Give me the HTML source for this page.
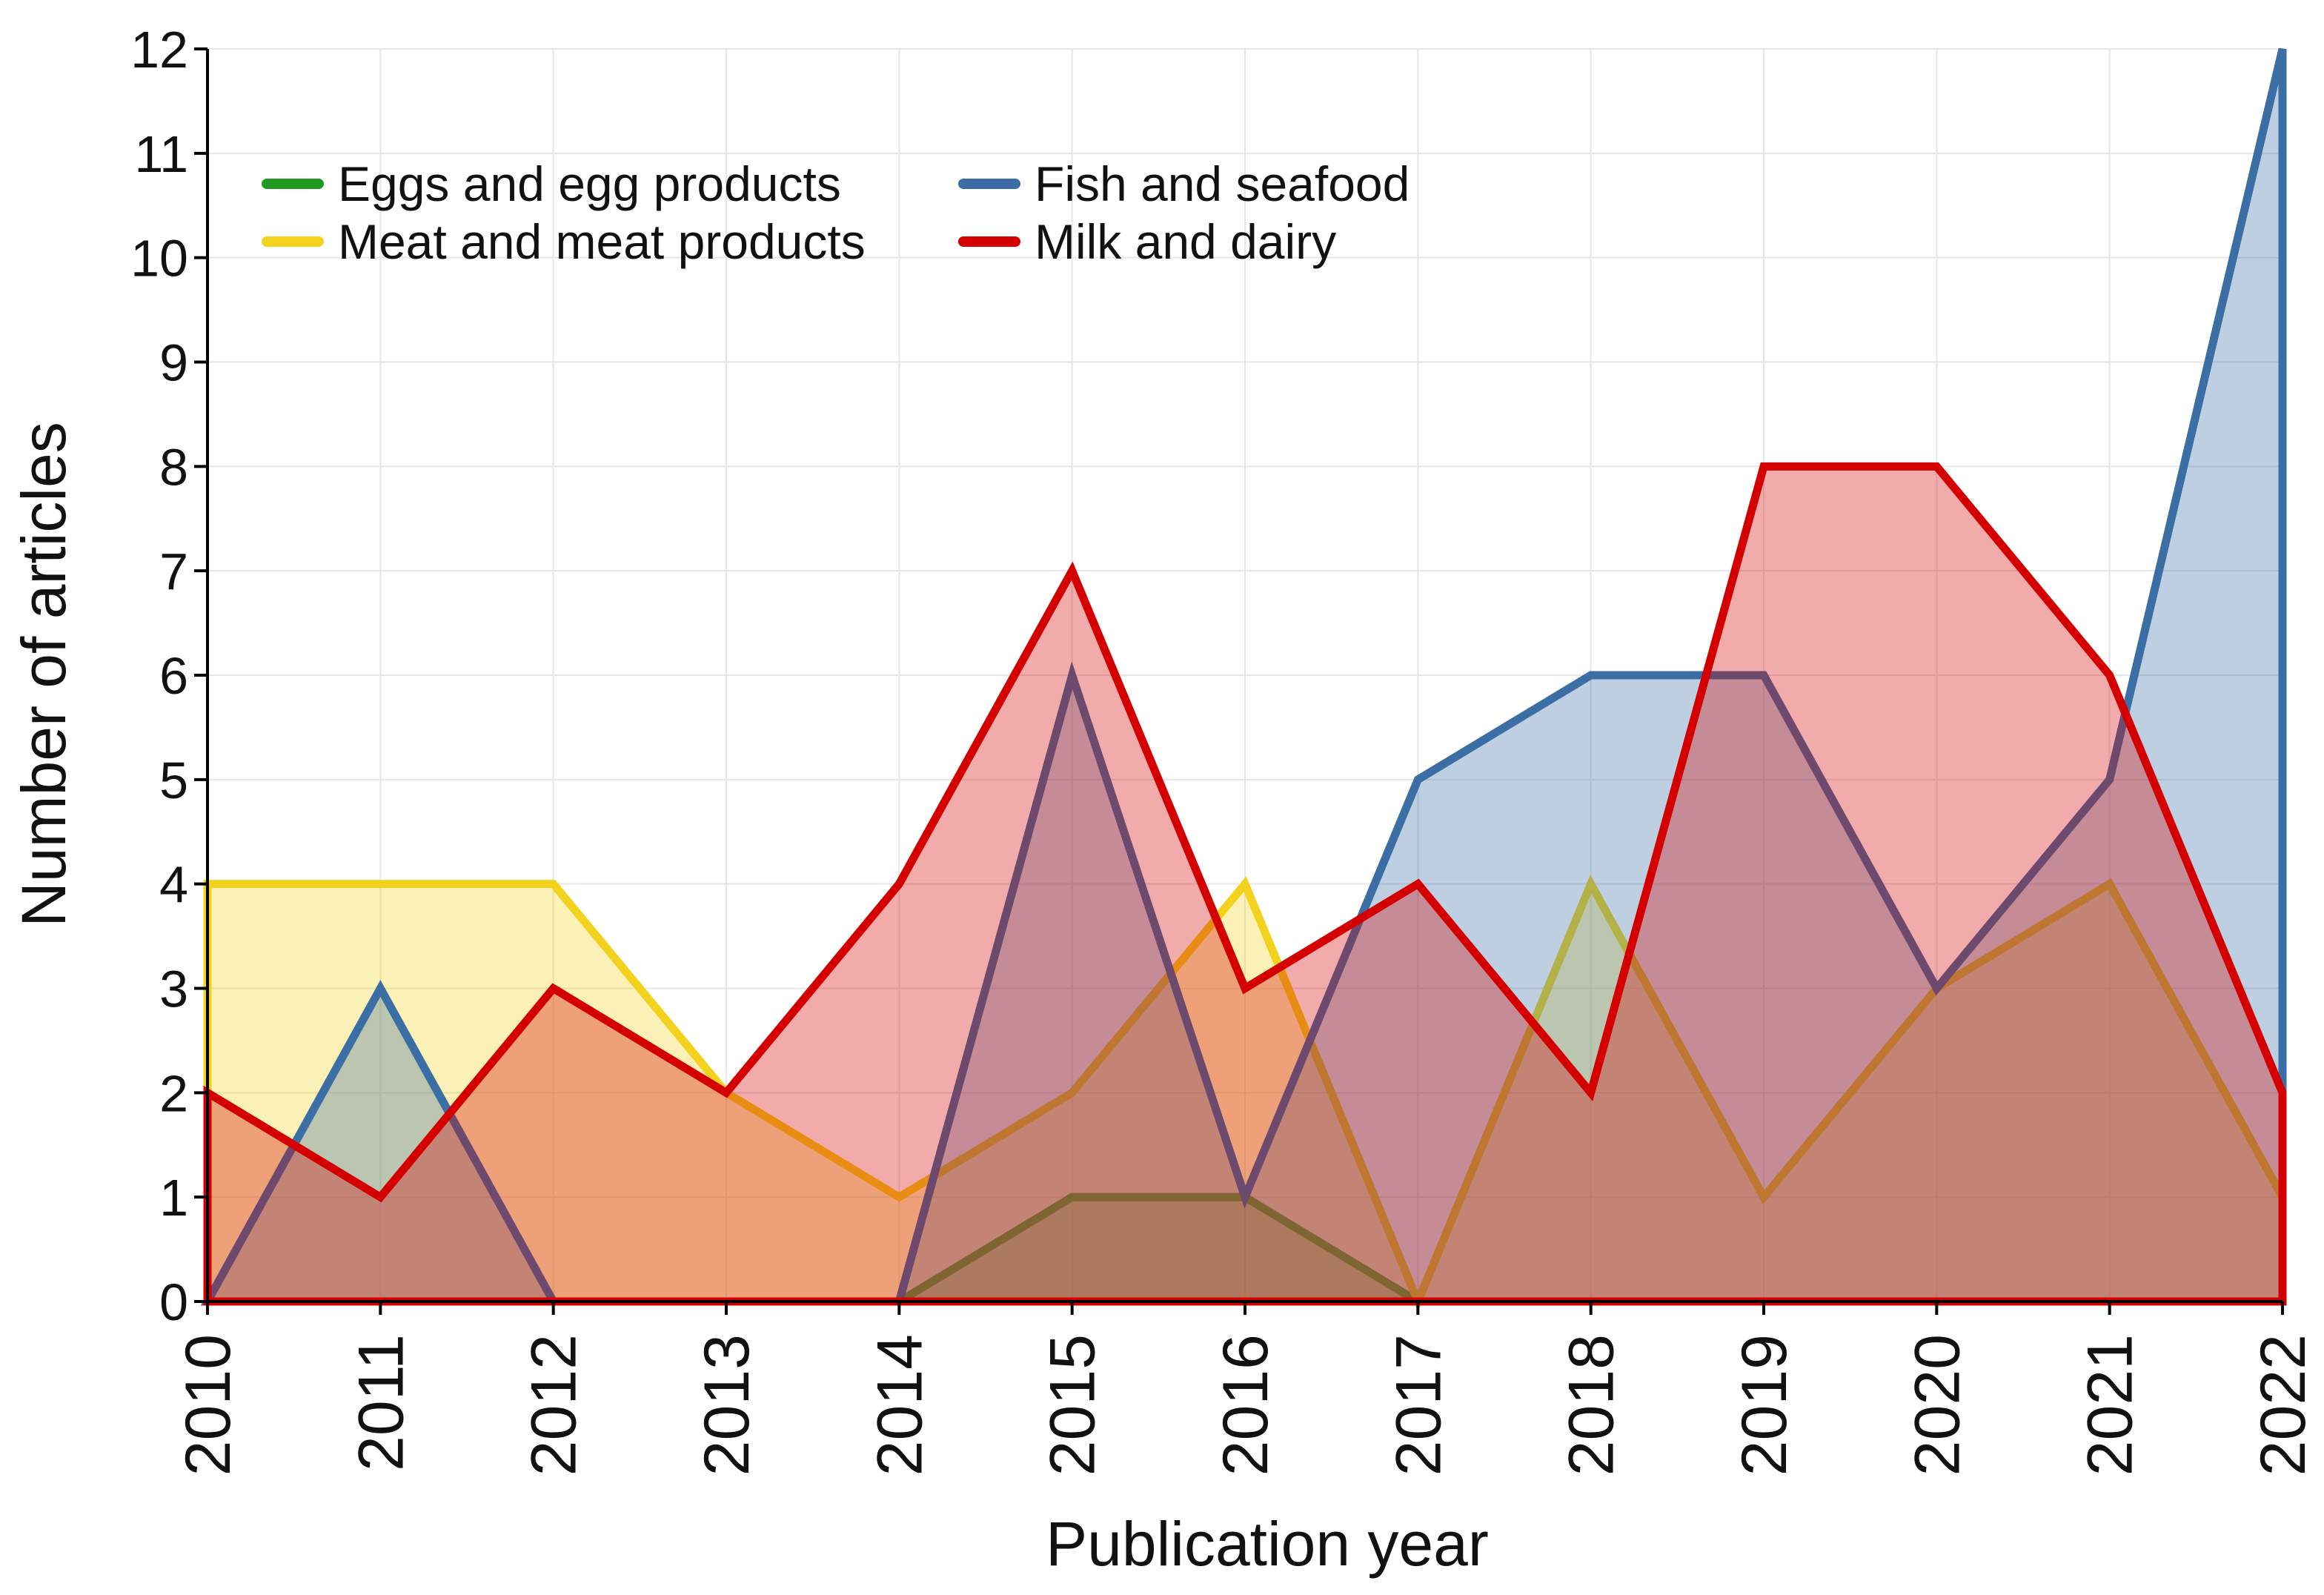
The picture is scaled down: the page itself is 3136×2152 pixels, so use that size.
<!DOCTYPE html>
<html><head><meta charset="utf-8"><style>
html,body{margin:0;padding:0;background:#fff;}
svg{display:block;font-family:"Liberation Sans",Arial,sans-serif;}
</style></head><body>
<svg id="chart" width="3136" height="2152" viewBox="0 0 3136 2152" xmlns="http://www.w3.org/2000/svg">
<g id="grid"></g>
<g id="areas"></g>
<g id="axes"></g>
<text transform="translate(88,910) rotate(-90)" text-anchor="middle" font-size="84" fill="#111">Number of articles</text>
<text x="1710" y="2112" text-anchor="middle" font-size="84" fill="#111">Publication year</text>
<g id="legend"></g>
</svg>
<script>
const years = [2010,2011,2012,2013,2014,2015,2016,2017,2018,2019,2020,2021,2022];
const eggs = [0,0,0,0,0,1,1,0,0,0,0,0,0];
const meat = [4,4,4,2,1,2,4,0,4,1,3,4,1];
const fish = [0,3,0,0,0,6,1,5,6,6,3,5,12];
const milk = [2,1,3,2,4,7,3,4,2,8,8,6,2];
const yTicks = [0,1,2,3,4,5,6,7,8,9,10,11,12];
const seriesNames = ["Eggs and egg products","Meat and meat products","Fish and seafood","Milk and dairy"];

const NS="http://www.w3.org/2000/svg";
const X0=280,X1=3080,Y0=1756,Y1=66;
const xs=i=>X0+(X1-X0)*i/(years.length-1);
const ys=v=>Y0-(Y0-Y1)*v/12;
function mk(tag,attrs,parent){const e=document.createElementNS(NS,tag);for(const k in attrs)e.setAttribute(k,attrs[k]);parent.appendChild(e);return e;}
const grid=document.getElementById('grid'),axes=document.getElementById('axes'),areas=document.getElementById('areas'),legend=document.getElementById('legend');

yTicks.forEach(t=>{
  const l=mk('line',{x1:X0,x2:X1,y1:ys(t),y2:ys(t),stroke:'#e6e6e6','stroke-width':2},grid);
  
  
  const tk=mk('line',{x1:X0-18,x2:X0,y1:ys(t),y2:ys(t),stroke:'#000','stroke-width':4},axes);
  
  
  const tx=mk('text',{x:X0-26,y:ys(t)+25,'text-anchor':'end','font-size':70,fill:'#111'},axes);
  tx.textContent=t;
  
  
});
years.forEach((y,i)=>{
  const l=mk('line',{x1:xs(i),x2:xs(i),y1:Y1,y2:Y0,stroke:'#e6e6e6','stroke-width':2},grid);
  
  
  const tk=mk('line',{x1:xs(i),x2:xs(i),y1:Y0,y2:Y0+18,stroke:'#000','stroke-width':4},axes);
  
  
  const tx=mk('text',{transform:`translate(${xs(i)+30},${Y0+44}) rotate(-90)`,'text-anchor':'end','font-size':86,fill:'#111'},axes);
  tx.textContent=y;
  
  
});

const series=[[eggs,'#1f9a1f','eggs'],[meat,'#f2d21d','meat'],[fish,'#3b6ea5','fish'],[milk,'#d40000','milk']];
series.forEach(([vals,col,key])=>{
  let d=`M${xs(0)},${ys(0)} `+vals.map((v,i)=>`L${xs(i)},${ys(v)}`).join(' ')+` L${xs(vals.length-1)},${ys(0)} Z`;
  const a=mk('path',{d,fill:col,'fill-opacity':0.33,stroke:'none'},areas);
  
  
  const p=mk('path',{d,fill:'none',stroke:col,'stroke-width':11,'stroke-linejoin':'miter'},areas);
  
  
});

const ax=mk('path',{d:`M${X0},${Y1} L${X0},${Y0} L${X1},${Y0}`,fill:'none',stroke:'#000','stroke-width':4},axes);



const lpos=[[350,248],[350,326],[1290,248],[1290,326]];
const lcols=['#1f9a1f','#f2d21d','#3b6ea5','#d40000'];
seriesNames.forEach((n,i)=>{
  const [lx,ly]=lpos[i];
  const l=mk('line',{x1:lx+10,x2:lx+80,y1:ly,y2:ly,stroke:lcols[i],'stroke-width':14,'stroke-linecap':'round'},legend);
  
  
  const t=mk('text',{x:lx+106,y:ly+23,'font-size':66,fill:'#111'},legend);
  t.textContent=n;
  
  
});
</script>
</body></html>
